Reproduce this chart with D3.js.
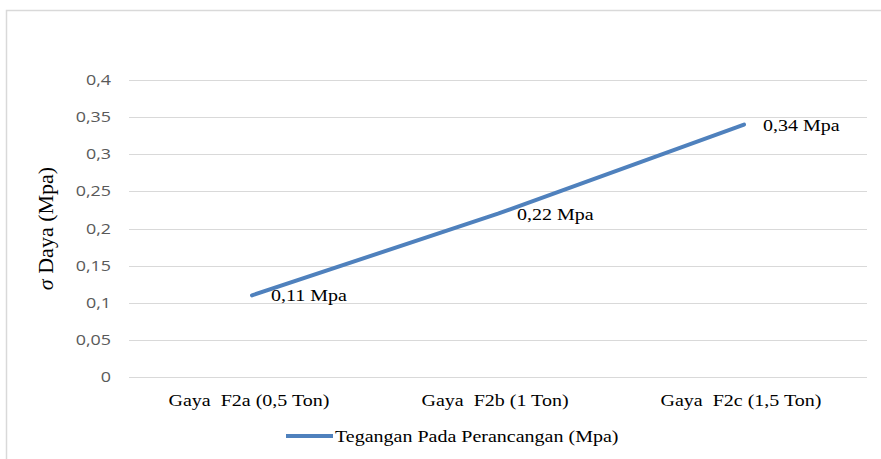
<!DOCTYPE html>
<html><head><meta charset="utf-8">
<script src="https://cdn.jsdelivr.net/npm/d3@7"></script>
<style>body{margin:0;background:#fff}svg{display:block}</style>
</head><body>
<svg id="c" width="881" height="459"></svg>
<script>
const categories = ["Gaya  F2a (0,5 Ton)", "Gaya  F2b (1 Ton)", "Gaya  F2c (1,5 Ton)"];
const values = [0.11, 0.22, 0.34];
const dataLabels = ["0,11 Mpa", "0,22 Mpa", "0,34 Mpa"];
const yTicks = [0, 0.05, 0.1, 0.15, 0.2, 0.25, 0.3, 0.35, 0.4];
const yTickLabels = ["0", "0,05", "0,1", "0,15", "0,2", "0,25", "0,3", "0,35", "0,4"];
const seriesName = "Tegangan Pada Perancangan (Mpa)";
const yTitleSymbol = "σ";
const yTitle = " Daya (Mpa)";

const svg = d3.select("#c");
const L = 129, R = 867, T = 80, B = 377;
const x = d3.scaleBand().domain(categories).range([L, R]);
const y = d3.scaleLinear().domain([0, 0.4]).range([B, T]);
const SERIF = "'Liberation Serif', 'Times New Roman', serif";
const SANS = "'Open Sans', 'Liberation Sans', sans-serif";
const SX_SERIF = 1.25, SX_SANS = 1.28;
const FS = 16;
const cx = i => x(categories[i]) + x.bandwidth() / 2;

// outer border
svg.append("path").attr("d", "M6.5,459 V10.5 H881").attr("fill", "none").attr("stroke", "#d9d9d9").attr("stroke-width", 1.5);

// gridlines
svg.append("g").selectAll("line").data(yTicks).join("line")
  .attr("x1", L).attr("x2", R)
  .attr("y1", d => Math.round(y(d)) + 0.5).attr("y2", d => Math.round(y(d)) + 0.5)
  .attr("stroke", "#d9d9d9").attr("stroke-width", 1);

// y tick labels
svg.append("g").selectAll("text").data(yTicks).join("text")
  .attr("transform", d => `translate(111,${y(d) + 5}) scale(${SX_SANS},1)`)
  .attr("text-anchor", "end").attr("font-family", SANS)
  .attr("font-size", 14).attr("fill", "#595959")
  .text((d, i) => yTickLabels[i]);

// x labels
svg.append("g").selectAll("text").data(categories).join("text")
  .attr("transform", d => `translate(${x(d) + x.bandwidth() / 2 - 3},406) scale(${SX_SERIF},1)`)
  .attr("text-anchor", "middle").attr("font-family", SERIF)
  .attr("font-size", FS).attr("fill", "#000")
  .attr("xml:space", "preserve").style("white-space", "pre")
  .text(d => d);

// y title
const tt = svg.append("text").attr("transform", `translate(53,${(T + B) / 2}) rotate(-90)`)
  .attr("text-anchor", "middle").attr("font-family", SERIF)
  .attr("font-size", 22).attr("fill", "#000")
  .attr("xml:space", "preserve").style("white-space", "pre");
tt.append("tspan").attr("font-style", "italic").text(yTitleSymbol);
tt.append("tspan").text(yTitle);

// line
const line = d3.line().x((d, i) => cx(i)).y(d => y(d));
svg.append("path").datum(values).attr("d", line)
  .attr("fill", "none").attr("stroke", "#4f81bd").attr("stroke-width", 4).attr("stroke-linecap", "round");

// data labels
svg.append("g").selectAll("text").data(values).join("text")
  .attr("transform", (d, i) => `translate(${cx(i) + 19},${y(d) + 6}) scale(${SX_SERIF},1)`)
  .attr("font-family", SERIF)
  .attr("font-size", FS).attr("fill", "#000")
  .text((d, i) => dataLabels[i]);

// legend
svg.append("line").attr("x1", 286).attr("x2", 333).attr("y1", 436).attr("y2", 436)
  .attr("stroke", "#4f81bd").attr("stroke-width", 4);
svg.append("text").attr("transform", `translate(335,442) scale(${SX_SERIF},1)`)
  .attr("font-family", SERIF)
  .attr("font-size", FS).attr("fill", "#000").text(seriesName);
</script>
</body></html>
